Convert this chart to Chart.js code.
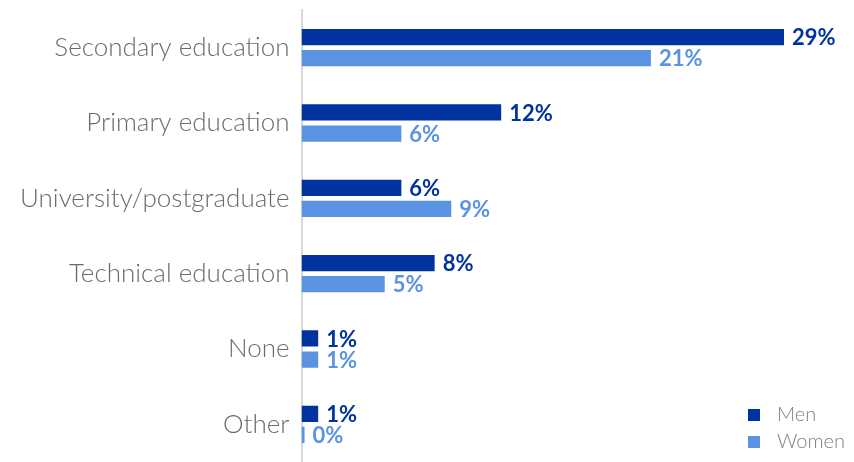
<!DOCTYPE html>
<html>
<head>
<meta charset="utf-8">
<script src="https://cdn.jsdelivr.net/npm/chart.js@4.4.0/dist/chart.umd.min.js"></script>
<style>
  html, body { margin: 0; padding: 0; background: #fff; }
  #wrap { width: 854px; height: 462px; }
</style>
</head>
<body>
<div id="wrap"><canvas id="eduChart" width="854" height="462"></canvas></div>
<script>
const categories = ['Secondary education', 'Primary education', 'University/postgraduate', 'Technical education', 'None', 'Other'];
const menValues = [29, 12, 6, 8, 1, 1];
const womenValues = [21, 6, 9, 5, 1, 0];
const seriesNames = ['Men', 'Women'];

const menColor = '#0033a0';
const womenColor = '#5b93e3';

// value labels at the end of each bar
const barLabels = {
  id: 'barLabels',
  afterDatasetsDraw(chart) {
    const ctx = chart.ctx;
    ctx.save();
    ctx.font = 'bold 22px Lato';
    ctx.textBaseline = 'middle';
    chart.data.datasets.forEach((ds, i) => {
      chart.getDatasetMeta(i).data.forEach((bar, j) => {
        ctx.fillStyle = ds.backgroundColor;
        ctx.fillText(ds.data[j] + '%', bar.x + 8, bar.y + 1);
      });
    });
    ctx.restore();
  }
};

// small legend in the bottom right corner
const cornerLegend = {
  id: 'cornerLegend',
  afterDraw(chart) {
    const ctx = chart.ctx;
    ctx.save();
    ctx.font = '300 20px Lato';
    ctx.textBaseline = 'middle';
    chart.data.datasets.forEach((ds, i) => {
      const y = 415 + i * 27;
      ctx.fillStyle = ds.backgroundColor;
      ctx.fillRect(748, y - 6, 12, 12);
      ctx.fillStyle = '#808080';
      ctx.fillText(ds.label, 777, y);
    });
    ctx.restore();
  }
};

const ctx = document.getElementById('eduChart').getContext('2d');
const eduChart = new Chart(ctx, {
  type: 'bar',
  data: {
    labels: categories,
    datasets: [
      { label: seriesNames[0], data: menValues, backgroundColor: menColor },
      { label: seriesNames[1], data: womenValues, backgroundColor: womenColor, minBarLength: 3 }
    ]
  },
  options: {
    indexAxis: 'y',
    responsive: false,
    animation: false,
    layout: { padding: { top: 10, right: 70, bottom: 0, left: 8 } },
    categoryPercentage: 0.56,
    barPercentage: 0.77,
    plugins: {
      legend: { display: false },
      tooltip: { enabled: false }
    },
    scales: {
      x: {
        min: 0,
        max: 29,
        display: false
      },
      y: {
        grid: { display: false, drawTicks: false },
        border: { color: '#d9d9d9', width: 2 },
        ticks: {
          color: '#6b6b6b',
          font: { family: 'Lato', size: 26, weight: '300' },
          padding: 12
        },
        afterFit(scale) {
          scale.paddingTop = 0;
          scale.paddingBottom = 0;
        }
      }
    }
  },
  plugins: [barLabels, cornerLegend]
});
</script>
</body>
</html>
